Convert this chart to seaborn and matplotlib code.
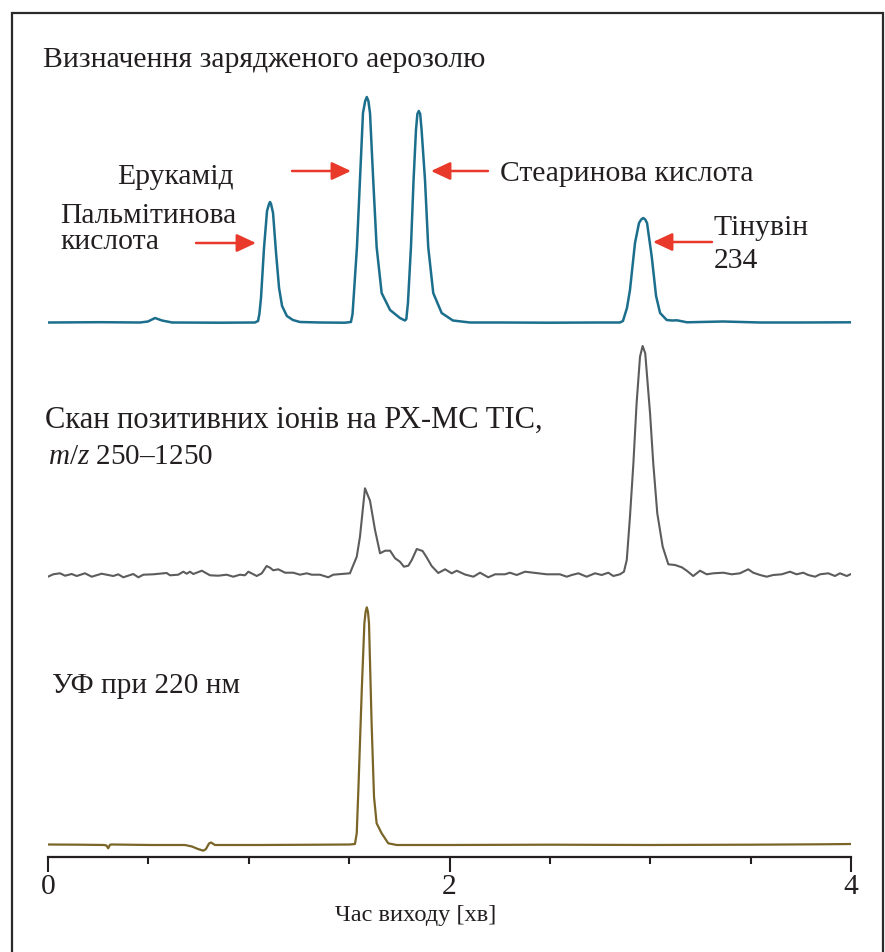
import matplotlib
matplotlib.use("Agg")
import matplotlib.pyplot as plt
import seaborn as sns
import pandas as pd
from matplotlib.patches import Rectangle, FancyArrowPatch

# ---------------- data ----------------
aero_t = [0.000, 0.259, 0.458, 0.498, 0.533, 0.568, 0.618, 0.857, 1.031, 1.046,
          1.053, 1.061, 1.076, 1.091, 1.101, 1.106, 1.111, 1.121, 1.136, 1.151,
          1.166, 1.190, 1.220, 1.255, 1.355, 1.479, 1.509, 1.517, 1.524, 1.539,
          1.554, 1.569, 1.580, 1.588, 1.596, 1.604, 1.620, 1.637, 1.662, 1.704,
          1.753, 1.778, 1.785, 1.793, 1.808, 1.821, 1.833, 1.840, 1.847, 1.854,
          1.861, 1.878, 1.894, 1.919, 1.961, 2.017, 2.102, 2.252, 2.501, 2.750,
          2.849, 2.864, 2.884, 2.899, 2.924, 2.944, 2.955, 2.965, 2.975, 2.984,
          3.007, 3.029, 3.049, 3.082, 3.108, 3.133, 3.183, 3.362, 3.547, 3.746,
          4.000]
aero_v = [0.5, 0.8, 0.5, 1.5, 5, 2.5, 0.5, 0.3, 0.5, 2,
          9, 25, 75, 112, 119, 121, 119, 110, 70, 35,
          17, 7, 3, 1, 0.5, 0.3, 1, 9, 30, 76,
          143, 210, 222, 226, 222, 210, 143, 76, 30, 13,
          5, 2.5, 4, 20, 76, 143, 193, 209, 212, 209,
          193, 143, 76, 30, 10, 2.5, 0.5, 0.5, 0.3, 0.5,
          0.5, 2, 15, 33, 80, 100, 103.5, 105, 103.5, 100,
          67, 27, 10, 3, 2.5, 2.7, 0.7, 1.5, 0.5, 0.5,
          0.7]

tic_t = [0.000, 0.026, 0.060, 0.085, 0.118, 0.143, 0.184, 0.218, 0.267, 0.325,
         0.350, 0.375, 0.425, 0.450, 0.475, 0.525, 0.591, 0.608, 0.649, 0.674,
         0.691, 0.707, 0.724, 0.766, 0.807, 0.848, 0.890, 0.923, 0.956, 0.981,
         0.998, 1.040, 1.065, 1.089, 1.106, 1.122, 1.147, 1.181, 1.222, 1.255,
         1.289, 1.314, 1.355, 1.396, 1.421, 1.504, 1.538, 1.554, 1.579, 1.604,
         1.629, 1.654, 1.679, 1.704, 1.729, 1.753, 1.773, 1.795, 1.812, 1.837,
         1.866, 1.886, 1.911, 1.944, 1.978, 2.011, 2.036, 2.077, 2.119, 2.152,
         2.193, 2.227, 2.276, 2.301, 2.335, 2.376, 2.417, 2.484, 2.550, 2.584,
         2.609, 2.642, 2.683, 2.725, 2.758, 2.791, 2.816, 2.849, 2.869, 2.883,
         2.899, 2.916, 2.932, 2.949, 2.962, 2.975, 2.999, 3.015, 3.035, 3.062,
         3.090, 3.123, 3.157, 3.182, 3.214, 3.248, 3.281, 3.314, 3.364, 3.406,
         3.447, 3.488, 3.513, 3.547, 3.580, 3.613, 3.655, 3.696, 3.729, 3.762,
         3.787, 3.821, 3.846, 3.887, 3.920, 3.945, 3.979, 4.000]
tic_v = [-1.7, 0.7, 1.7, -0.7, 1.0, -1.0, 1.7, -1.7, 1.3, -1.0,
         0.7, -2.3, 1.0, -2.3, 0.3, 0.7, 2.0, -0.3, 0.3, 3.3,
         1.3, 3.3, 1.0, 4.3, -0.3, -0.7, 0.3, -1.7, 0.3, -0.3,
         3.3, -1.0, 1.7, 9.0, 7.3, 4.7, 5.7, 2.3, 2.3, 0.3,
         1.7, 0.3, 0.3, -2.3, 0.3, 1.7, 18.3, 38.3, 86.7, 74.3,
         45.0, 21.7, 24.3, 24.3, 16.7, 13.3, 8.3, 9.3, 15.0, 26.0,
         24.0, 17.7, 9.0, 2.0, 5.7, 1.7, 4.3, 0.5, -1.7, 2.3,
         -2.3, 0.7, 0.7, 2.3, 0.0, 3.3, 2.3, 0.7, 0.7, -1.7,
         0.0, 1.7, -1.7, 1.7, 0.0, 2.3, -1.0, 0.7, 3.3, 15.0,
         58.3, 111.7, 171.7, 218.3, 229.0, 221.7, 161.7, 111.7, 61.7, 28.3,
         10.7, 10.0, 7.7, 4.3, -1.0, 4.3, 0.7, 1.7, 2.3, 0.7,
         1.7, 5.7, 2.3, 0.0, -1.7, 0.0, 0.7, 3.3, 0.7, 2.3,
         0.0, -1.7, 0.7, 1.7, -1.0, 1.7, -1.0, 1.0]

uv_t = [0.000, 0.159, 0.279, 0.291, 0.300, 0.309, 0.319, 0.508, 0.682, 0.717,
        0.747, 0.774, 0.787, 0.802, 0.812, 0.832, 1.056, 1.355, 1.504, 1.529,
        1.538, 1.546, 1.563, 1.576, 1.582, 1.588, 1.594, 1.599, 1.612, 1.624,
        1.637, 1.662, 1.695, 1.737, 2.002, 2.501, 2.999, 3.497, 3.846, 4.000]
uv_v = [0.5, 0.3, 0.0, -0.5, -3.3, 0.3, 0.5, 0.0, 0.0, -1.5,
        -4.0, -5.7, -4.0, 1.5, 2.5, 0.0, 0.0, 0.3, 0.5, 1.0,
        12, 55, 155, 221.7, 233, 237.7, 233, 221.7, 121.7, 48,
        21.7, 11.7, 1.7, 0.0, 0.0, 0.3, 0.0, 0.3, 0.7, 1.0]

x_major = [0, 2, 4]
x_minor = [0.5, 1.0, 1.5, 2.5, 3.0, 3.5]
x_major_labels = ["0", "2", "4"]
x_label = "Час виходу [хв]"

title_aero = "Визначення зарядженого аерозолю"
title_tic = "Скан позитивних іонів на РХ-МС TIC,"
title_tic2 = "$m/z$ 250–1250"
title_uv = "УФ при 220 нм"
peak_labels = [["Пальмітинова", "кислота"], ["Ерукамід"], ["Стеаринова кислота"],
               ["Тінувін", "234"]]

# ---------------- style ----------------
sns.set_style("white")
plt.rcParams["font.family"] = ["Liberation Serif", "DejaVu Serif"]
plt.rcParams["mathtext.fontset"] = "custom"
plt.rcParams["mathtext.rm"] = "Liberation Serif"
plt.rcParams["mathtext.it"] = "Liberation Serif:italic"

W, H = 885, 952
TXT = "#231f20"
RED = "#e8392b"
TEAL = "#1b6e8c"
GRAY = "#5c5c5c"
OLIVE = "#7a6528"
FS = 21.3

fig = plt.figure(figsize=(W / 100, H / 100), dpi=100)


def fx(px):
    return px / W


def fy(py):
    return 1 - py / H


def add_panel(top, bottom, ylim):
    ax = fig.add_axes([fx(48), fy(bottom), (851 - 48) / W, (bottom - top) / H])
    ax.set_xlim(0, 4)
    ax.set_ylim(*ylim)
    ax.patch.set_alpha(0)
    return ax


ax1 = add_panel(40, 335, (-12, 283))
ax2 = add_panel(335, 595, (-20, 240))
ax3 = add_panel(595, 857, (-12, 250))

df1 = pd.DataFrame({"t": aero_t, "v": aero_v})
df2 = pd.DataFrame({"t": tic_t, "v": tic_v})
df3 = pd.DataFrame({"t": uv_t, "v": uv_v})

sns.lineplot(data=df1, x="t", y="v", ax=ax1, color=TEAL, lw=1.8, estimator=None)
sns.lineplot(data=df2, x="t", y="v", ax=ax2, color=GRAY, lw=1.5, estimator=None)
sns.lineplot(data=df3, x="t", y="v", ax=ax3, color=OLIVE, lw=1.6, estimator=None)

for ax in (ax1, ax2):
    ax.axis("off")

for s in ("left", "right", "top"):
    ax3.spines[s].set_visible(False)
ax3.spines["bottom"].set_color("#231f20")
ax3.spines["bottom"].set_linewidth(1.6)
ax3.set_yticks([])
ax3.set_ylabel("")
ax3.set_xlabel("")
ax3.set_xticks(x_major)
ax3.set_xticklabels(x_major_labels, fontsize=FS, color=TXT)
ax3.set_xticks(x_minor, minor=True)
ax3.tick_params(axis="x", which="both", bottom=True, top=False)
ax3.tick_params(axis="x", which="major", direction="out", length=10.5, width=1.5,
                color="#231f20", pad=2)
ax3.tick_params(axis="x", which="minor", direction="out", length=5, width=1.5,
                color="#231f20")

fig.text(fx(416), fy(921), x_label, fontsize=17.6, color=TXT, ha="center",
         va="baseline")

# panel titles
fig.text(fx(43), fy(67), title_aero, fontsize=21.4, color=TXT, va="baseline")
fig.text(fx(45), fy(428), title_tic, fontsize=22, color=TXT, va="baseline")
fig.text(fx(48), fy(464), title_tic2, fontsize=21, color=TXT, va="baseline")
fig.text(fx(52), fy(693), title_uv, fontsize=21.1, color=TXT, va="baseline")

# peak labels (one text per line; baselines in image pixels)
label_pos = [[(60, 223), (60, 249)], [(117, 184)], [(500, 181)], [(714, 235), (714, 268)]]
for lines, poss in zip(peak_labels, label_pos):
    for s, (px, py) in zip(lines, poss):
        fig.text(fx(px), fy(py), s, fontsize=FS, color=TXT, va="baseline")

# arrows (tail -> tip), image pixel coordinates
arrows = [((196, 243), (256, 243)),
          ((292, 171), (351, 171)),
          ((488, 171), (431, 171)),
          ((712, 242), (653, 242))]
for (x0, y0), (x1, y1) in arrows:
    fig.add_artist(FancyArrowPatch(
        (fx(x0), fy(y0)), (fx(x1), fy(y1)), transform=fig.transFigure,
        arrowstyle="-|>,head_length=0.9,head_width=0.42", mutation_scale=13,
        color=RED, lw=1.8, shrinkA=0, shrinkB=0))

# outer frame (bottom edge lies below the image)
fig.add_artist(Rectangle((fx(12), -0.1), (883 - 12) / W, fy(13) + 0.1,
                         transform=fig.transFigure, fill=False, lw=1.6,
                         ec="#2a2a2a"))

fig.savefig("out.png", dpi=100)
